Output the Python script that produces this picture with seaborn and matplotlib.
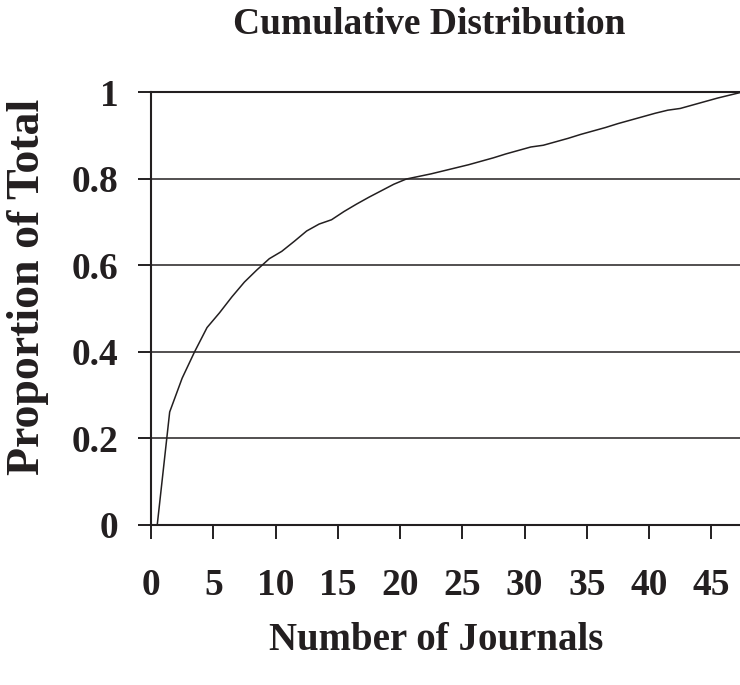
import matplotlib
matplotlib.use("Agg")
import matplotlib.pyplot as plt
import numpy as np
import pandas as pd
import seaborn as sns

# ---------------------------------------------------------------------------
# Data
# ---------------------------------------------------------------------------

journals = np.arange(0, 48)
proportion = [
    0.000, 0.261, 0.339, 0.400, 0.456, 0.490, 0.527, 0.561, 0.589, 0.615,
    0.632, 0.655, 0.679, 0.695, 0.705, 0.724, 0.741, 0.757, 0.772, 0.787,
    0.799, 0.805, 0.811, 0.818, 0.825, 0.832, 0.840, 0.848, 0.857, 0.865,
    0.873, 0.877, 0.885, 0.893, 0.902, 0.910, 0.918, 0.927, 0.935, 0.943,
    0.951, 0.958, 0.962, 0.970, 0.978, 0.986, 0.993, 1.000,
]
x_ticks = [0, 5, 10, 15, 20, 25, 30, 35, 40, 45]
y_ticks = [0, 0.2, 0.4, 0.6, 0.8, 1.0]
y_tick_labels = ["0", "0.2", "0.4", "0.6", "0.8", "1"]

# ---------------------------------------------------------------------------
# Style
# ---------------------------------------------------------------------------

INK = "#231f20"
W, H = 740, 685
AX_L, AX_B, AX_T = 151, 525, 92   # axes edges in pixels

sns.set_theme(style="ticks")
plt.rcParams.update({
    "font.family": ["Liberation Serif", "DejaVu Serif"],
    "font.weight": "bold",
})

# category-centred points, as in the original spreadsheet chart
df = pd.DataFrame({"x": journals + 0.5, "y": proportion})

fig = plt.figure(figsize=(W / 100, H / 100), dpi=100)
ax = fig.add_axes([AX_L / W, 1 - AX_B / H, 1 - AX_L / W, (AX_B - AX_T) / H])

sns.lineplot(data=df, x="x", y="y", ax=ax, color=INK, linewidth=1.1)

ax.set_xlim(0, 47.3)
ax.set_ylim(0, 1)
ax.set_xticks(x_ticks)
ax.set_xticklabels([str(t) for t in x_ticks])
ax.set_yticks(y_ticks)
ax.set_yticklabels(y_tick_labels)

for y in y_ticks[1:-1]:
    ax.axhline(y, color=INK, linewidth=1.1, zorder=0)

for side in ["left", "bottom", "top"]:
    ax.spines[side].set_visible(True)
    ax.spines[side].set_color(INK)
    ax.spines[side].set_linewidth(1.5)
ax.spines["right"].set_visible(False)

ax.tick_params(axis="x", bottom=True, top=False, direction="out", length=10,
               width=1.4, color=INK, pad=21, labelsize=27, labelcolor=INK)
ax.tick_params(axis="y", left=True, right=False, direction="out", length=9.5,
               width=1.4, color=INK, pad=14, labelsize=27, labelcolor=INK)
for lab in ax.get_xticklabels() + ax.get_yticklabels():
    lab.set_fontweight("bold")

ax.set_xlabel("")
ax.set_ylabel("")

fig.text(0.58, 1 - 25 / H, "Cumulative Distribution", ha="center", va="center",
         fontsize=27, fontweight="bold", color=INK)
fig.text(0.59, 1 - 640 / H, "Number of Journals", ha="center", va="center",
         fontsize=28, fontweight="bold", color=INK)
fig.text(0.038, 1 - 287 / H, "Proportion of Total", ha="center", va="center",
         rotation=90, fontsize=33, fontweight="bold", color=INK)

fig.savefig("out.png", dpi=100)
